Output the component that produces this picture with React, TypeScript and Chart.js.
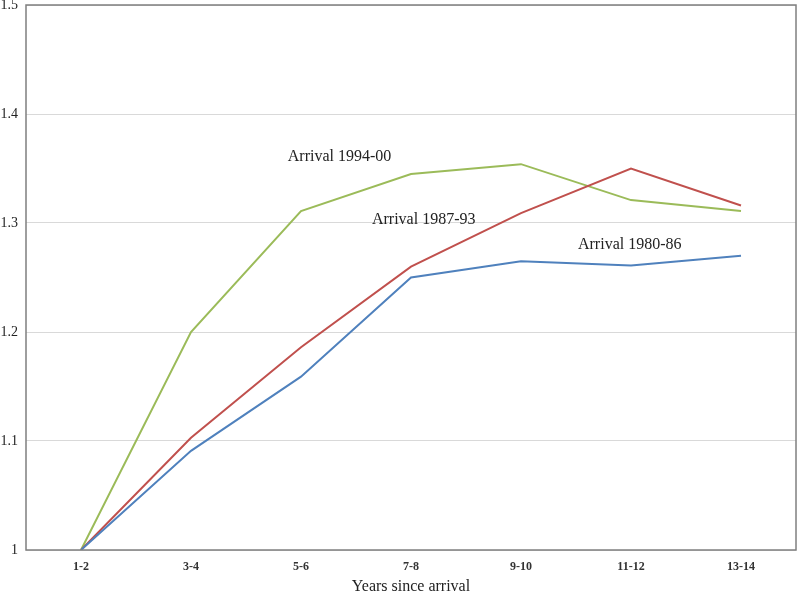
import React, { useEffect, useRef } from "react";
import { Chart, registerables } from "chart.js";

Chart.register(...registerables);

const categories = ["1-2", "3-4", "5-6", "7-8", "9-10", "11-12", "13-14"];
const arrival1980 = [1.0, 1.091, 1.159, 1.25, 1.265, 1.261, 1.27];
const arrival1987 = [1.0, 1.103, 1.186, 1.26, 1.309, 1.35, 1.316];
const arrival1994 = [1.0, 1.2, 1.311, 1.345, 1.354, 1.321, 1.311];
const labelTexts = ["Arrival 1994-00", "Arrival 1987-93", "Arrival 1980-86"];
const labelAnchorsX = [1.88, 2.645, 4.518];
const labelAnchorsY = [1.3606, 1.3028, 1.2798];

const serif = "'Liberation Serif', 'Times New Roman', serif";

const framePlugin = {
  id: "frame",
  afterDraw(chart: any) {
    const { ctx, chartArea, scales } = chart;
    ctx.save();
    ctx.strokeStyle = "#7f7f7f";
    ctx.lineWidth = 1.5;
    ctx.strokeRect(chartArea.left, chartArea.top, chartArea.right - chartArea.left, chartArea.bottom - chartArea.top);
    ctx.fillStyle = "#222";
    ctx.font = `16px ${serif}`;
    ctx.textAlign = "left";
    ctx.textBaseline = "middle";
    labelTexts.forEach((t, i) => {
      const x = scales.x.getPixelForValue(labelAnchorsX[i]);
      const y = scales.y.getPixelForValue(labelAnchorsY[i]);
      ctx.fillText(t, x, y);
    });
    ctx.restore();
  },
};

export default function App() {
  const ref = useRef<HTMLCanvasElement>(null);
  useEffect(() => {
    document.body.style.margin = "0";
    const chart = new Chart(ref.current!, {
      type: "line",
      data: {
        labels: categories,
        datasets: [
          { label: "Arrival 1980-86", data: arrival1980, borderColor: "#4F81BD", borderWidth: 2, pointRadius: 0, tension: 0 },
          { label: "Arrival 1987-93", data: arrival1987, borderColor: "#C0504D", borderWidth: 2, pointRadius: 0, tension: 0 },
          { label: "Arrival 1994-00", data: arrival1994, borderColor: "#9BBB59", borderWidth: 2, pointRadius: 0, tension: 0 },
        ],
      },
      options: {
        animation: false,
        responsive: false,
        maintainAspectRatio: false,
        layout: { padding: { top: 5, right: 4, left: 0, bottom: 0 } },
        plugins: { legend: { display: false }, tooltip: { enabled: false } },
        scales: {
          x: {
            offset: true,
            grid: { display: false },
            border: { display: false },
            ticks: { color: "#333", font: { family: serif, size: 12, weight: "bold" }, padding: 2 },
            title: { display: true, text: "Years since arrival", color: "#222", font: { family: serif, size: 16 }, padding: { top: 0, bottom: -4 } },
            afterFit: (s: any) => { s.height = 42; },
          },
          y: {
            min: 1,
            max: 1.5,
            ticks: {
              stepSize: 0.1,
              color: "#222",
              font: { family: serif, size: 14 },
              padding: 8,
              callback: (v: any) => String(Math.round(Number(v) * 10) / 10),
            },
            grid: { color: "#d9d9d9", drawTicks: false },
            border: { display: false },
            afterFit: (s: any) => { s.width = 26; s.paddingTop = 0; s.paddingBottom = 0; },
          },
        },
      },
      plugins: [framePlugin],
    });
    return () => chart.destroy();
  }, []);
  return <canvas ref={ref} width={800} height={592} style={{ display: "block" }} />;
}
